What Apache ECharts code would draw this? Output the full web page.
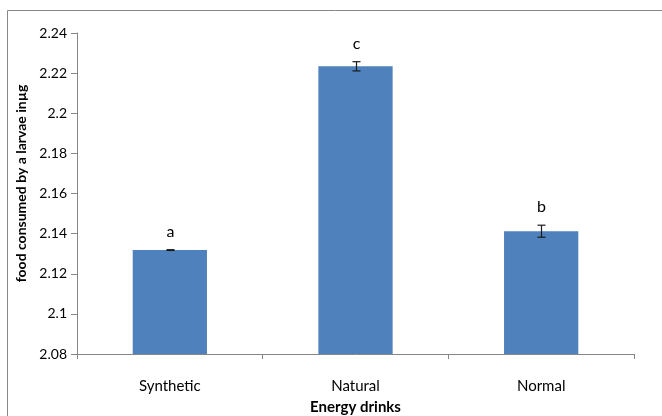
<!DOCTYPE html>
<html>
<head>
<meta charset="utf-8">
<script src="https://cdn.jsdelivr.net/npm/echarts@6/dist/echarts.min.js"></script>
<style>
  html, body { margin: 0; padding: 0; background: #fff; }
  #chart { width: 662px; height: 416px; }
</style>
</head>
<body>
<div id="chart"></div>
<script>
// Mean food consumption per larva for each energy drink group
const categories = ['Synthetic', 'Natural', 'Normal'];
const means = [2.1318, 2.2234, 2.1412];
const errors = [0.0002, 0.0023, 0.0030];
const letters = ['a', 'c', 'b'];
const yTicks = { min: 2.08, max: 2.24, interval: 0.02 };

const FONT = 'Lato, "Open Sans", sans-serif';

const errData = categories.map((c, i) => [i, means[i], errors[i], letters[i]]);

const chart = echarts.init(document.getElementById('chart'), null, { renderer: 'canvas' });

chart.setOption({
  animation: false,
  backgroundColor: '#ffffff',
  graphic: [{
    type: 'rect',
    shape: { x: 7.5, y: 10.5, width: 720, height: 500 },
    style: { fill: 'none', stroke: '#888888', lineWidth: 1 },
    silent: true
  }],
  grid: { left: 77, right: 28, top: 33, bottom: 62, containLabel: false, outerBoundsMode: 'none' },
  xAxis: {
    type: 'category',
    data: categories,
    name: 'Energy drinks',
    nameLocation: 'middle',
    nameGap: 46,
    nameTextStyle: { fontFamily: FONT, fontWeight: 'bold', fontSize: 15, color: '#000' },
    axisLine: { lineStyle: { color: '#868686', width: 1 } },
    axisTick: { show: true, alignWithLabel: false, length: 5, lineStyle: { color: '#868686' } },
    axisLabel: { fontFamily: FONT, fontSize: 15, color: '#000', margin: 25 },
    splitLine: { show: false }
  },
  yAxis: {
    type: 'value',
    min: yTicks.min,
    max: yTicks.max,
    interval: yTicks.interval,
    name: 'food consumed by a larvae inµg',
    nameLocation: 'middle',
    nameGap: 48,
    nameTextStyle: { fontFamily: FONT, fontWeight: 'bold', fontSize: 14, color: '#000', padding: [0, 0, 0, 20] },
    axisLine: { show: true, lineStyle: { color: '#868686', width: 1 } },
    axisTick: { show: true, length: 6, inside: false, lineStyle: { color: '#868686' } },
    axisLabel: {
      fontFamily: FONT, fontSize: 14, color: '#000', margin: 10,
      formatter: v => String(parseFloat(v.toFixed(2)))
    },
    splitLine: { show: false }
  },
  series: [
    {
      type: 'bar',
      data: means,
      barWidth: '40%',
      itemStyle: { color: '#4F81BD' },
      z: 2
    },
    {
      type: 'custom',
      data: errData,
      z: 5,
      renderItem: function (params, api) {
        const i = api.value(0);
        const m = api.value(1);
        const e = api.value(2);
        const top = api.coord([i, m + e]);
        const bot = api.coord([i, m - e]);
        const cap = 4;
        const x = Math.round(top[0]) + 0.5;
        const style = { stroke: '#1a1a1a', lineWidth: 1.2 };
        return {
          type: 'group',
          children: [
            { type: 'line', shape: { x1: x, y1: top[1], x2: x, y2: bot[1] }, style },
            { type: 'line', shape: { x1: x - cap, y1: top[1], x2: x + cap, y2: top[1] }, style },
            { type: 'line', shape: { x1: x - cap, y1: bot[1], x2: x + cap, y2: bot[1] }, style },
            {
              type: 'text',
              x: x,
              y: top[1] - 10,
              style: {
                text: letters[params.dataIndex],
                fontFamily: FONT,
                fontSize: 16,
                fill: '#000',
                align: 'center',
                verticalAlign: 'bottom'
              }
            }
          ]
        };
      }
    }
  ]
});
</script>
</body>
</html>
